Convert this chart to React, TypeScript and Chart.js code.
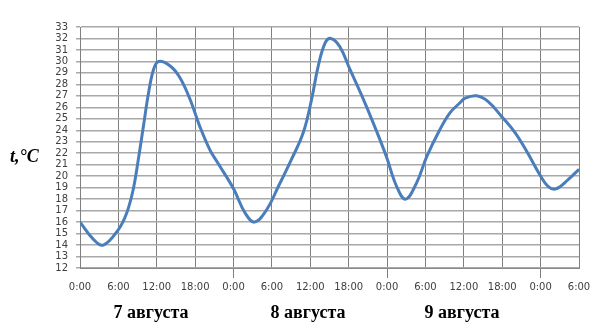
import React, { useEffect, useRef } from "react";
import { Chart, registerables } from "chart.js";

Chart.register(...registerables);

const hours = [0, 2.1, 3.65, 6, 7.3, 8.3, 9.1, 9.9, 10.7, 11.5, 12.3, 14.1, 15.6, 17.2, 18.75, 20.3, 21.6, 24, 25.8, 27.3, 29.2, 31, 33, 34.9, 36.2, 37.2, 38.3, 39.2, 40.6, 42.2, 44.3, 46.3, 47.9, 49.5, 50.9, 52.6, 54.2, 56.2, 57.8, 59.4, 60.2, 62, 63.8, 65.9, 68, 70, 71.9, 73.2, 74.4, 76.3, 78];
const temps = [16, 14.5, 14, 15.35, 16.8, 18.8, 21.4, 24.3, 27.2, 29.3, 30, 29.6, 28.6, 26.7, 24.3, 22.3, 21.1, 18.9, 16.8, 16, 17.1, 19.1, 21.4, 23.8, 26.7, 29.5, 31.6, 32, 31.3, 29.3, 26.7, 24, 21.7, 19.1, 18, 19.4, 21.7, 24, 25.5, 26.4, 26.8, 27, 26.5, 25.2, 23.8, 22, 20.1, 19.1, 18.9, 19.7, 20.6];
const dayLabels = ["7 августа", "8 августа", "9 августа"];
const dayLabelX = [151, 308, 462];
const yTitle = "t,°C";

export default function App() {
  const ref = useRef<HTMLCanvasElement | null>(null);
  useEffect(() => {
    document.body.style.margin = "0";
    const ctx = ref.current!.getContext("2d")!;
    const chart = new Chart(ctx, {
      type: "line",
      data: {
        datasets: [
          {
            data: hours.map((h, i) => ({ x: h, y: temps[i] })),
            borderColor: "#4a7ebb",
            borderWidth: 3,
            pointRadius: 0,
            tension: 0.4,
            borderJoinStyle: "round",
            fill: false,
          },
        ],
      },
      options: {
        animation: false,
        responsive: false,
        events: [],
        layout: { padding: { left: 0, right: 31, top: 27, bottom: 0 } },
        plugins: { legend: { display: false }, tooltip: { enabled: false } },
        scales: {
          x: {
            type: "linear",
            min: 0,
            max: 78,
            afterFit: (s: any) => {
              s.height = 67;
            },
            ticks: {
              stepSize: 6,
              autoSkip: false,
              maxRotation: 0,
              padding: 3,
              color: "#404040",
              font: { family: "DejaVu Sans", size: 10 },
              callback: (v: any) => `${Number(v) % 24}:00`,
            },
            grid: {
              color: "#7f7f7f",
              lineWidth: 1,
              tickLength: 10,
              tickColor: (c: any) =>
                c.tick && c.tick.value > 0 && c.tick.value % 24 === 0 ? "#7f7f7f" : "rgba(0,0,0,0)",
            },
            border: { color: "#8a8a8a", width: 1 },
          },
          y: {
            min: 12,
            max: 33,
            afterFit: (s: any) => {
              s.width = 80;
            },
            ticks: {
              stepSize: 1,
              autoSkip: false,
              padding: 8,
              color: "#404040",
              font: { family: "DejaVu Sans", size: 10 },
            },
            grid: { color: "#a8a8a8", lineWidth: 1.5, tickLength: 4 },
            border: { color: "#7f7f7f", width: 1 },
          },
        },
      },
    });
    return () => chart.destroy();
  }, []);

  return (
    <div style={{ position: "relative", width: 610, height: 335, background: "#fff" }}>
      <canvas ref={ref} width={610} height={335} style={{ display: "block" }} />
      <div
        style={{
          position: "absolute",
          left: 10,
          top: 147,
          fontFamily: "'Liberation Serif', serif",
          fontWeight: "bold",
          fontStyle: "italic",
          fontSize: 18,
          lineHeight: "18px",
          whiteSpace: "nowrap",
        }}
      >
        {yTitle}
      </div>
      {dayLabels.map((t, i) => (
        <div
          key={t}
          style={{
            position: "absolute",
            left: dayLabelX[i],
            top: 303,
            transform: "translateX(-50%)",
            fontFamily: "'Liberation Serif', serif",
            fontWeight: "bold",
            fontSize: 18,
            lineHeight: "18px",
            whiteSpace: "nowrap",
          }}
        >
          {t}
        </div>
      ))}
    </div>
  );
}
